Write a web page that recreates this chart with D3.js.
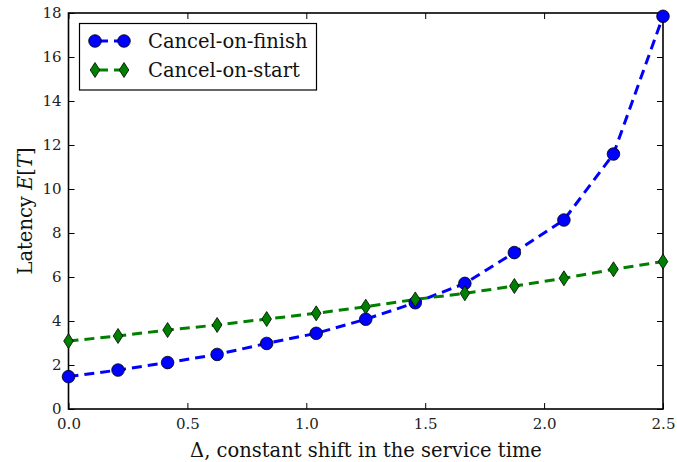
<!DOCTYPE html>
<html><head><meta charset="utf-8">
<script src="https://cdn.jsdelivr.net/npm/d3@7"></script>
<style>body{margin:0;background:#fff} text{font-family:"DejaVu Serif",serif}</style></head>
<body><svg id="c" width="677" height="462"></svg>
<script>
const deltas = [0, 0.2083, 0.4167, 0.625, 0.8333, 1.0417, 1.25, 1.4583, 1.6667, 1.875, 2.0833, 2.2917, 2.5];
const cancelOnFinish = [1.47, 1.77, 2.11, 2.48, 2.98, 3.44, 4.08, 4.83, 5.71, 7.11, 8.59, 11.59, 17.85];
const cancelOnStart = [3.09, 3.32, 3.59, 3.82, 4.09, 4.35, 4.65, 4.98, 5.26, 5.59, 5.94, 6.35, 6.70];
const xTicks = [0, 0.5, 1.0, 1.5, 2.0, 2.5];
const yTicks = [0, 2, 4, 6, 8, 10, 12, 14, 16, 18];
const seriesNames = ["Cancel-on-finish", "Cancel-on-start"];

const svg = d3.select("#c");
const L = 68.5, R = 663, T = 13, B = 409;
const x = d3.scaleLinear().domain([0, 2.5]).range([L, R]);
const y = d3.scaleLinear().domain([0, 18]).range([B, T]);
const font = "DejaVu Serif";

const gx = svg.append("g").attr("transform", `translate(0,${B})`)
  .call(d3.axisBottom(x).tickValues(xTicks).tickFormat(d3.format(".1f")).tickSizeInner(-6).tickSizeOuter(0).tickPadding(9));
const gxt = svg.append("g").attr("transform", `translate(0,${T})`)
  .call(d3.axisTop(x).tickValues(xTicks).tickFormat("").tickSizeInner(-6).tickSizeOuter(0));
const gy = svg.append("g").attr("transform", `translate(${L},0)`)
  .call(d3.axisLeft(y).tickValues(yTicks).tickFormat(d3.format("d")).tickSizeInner(-6).tickSizeOuter(0).tickPadding(7));
const gyr = svg.append("g").attr("transform", `translate(${R},0)`)
  .call(d3.axisRight(y).tickValues(yTicks).tickFormat("").tickSizeInner(-6).tickSizeOuter(0));
[gx, gxt, gy, gyr].forEach(g => {
  g.select(".domain").remove();
  g.selectAll(".tick line").attr("stroke", "#000").attr("stroke-width", 1);
  g.selectAll("text").attr("font-family", font).attr("font-size", 15).attr("fill", "#222");
});

svg.append("rect").attr("x", L).attr("y", T).attr("width", R - L).attr("height", B - T)
  .attr("fill", "none").attr("stroke", "#000").attr("stroke-width", 1.6);

const series = [
  {name: seriesNames[0], vals: cancelOnFinish, color: "#0000ff", marker: "circle"},
  {name: seriesNames[1], vals: cancelOnStart, color: "#008000", marker: "diamond"}
];
const line = d3.line().x(d => x(d[0])).y(d => y(d[1]));
const plot = svg.append("g");

function drawMarker(g, type, cx, cy, color) {
  if (type === "circle") {
    g.append("circle").attr("cx", cx).attr("cy", cy).attr("r", 6.3)
      .attr("fill", color).attr("stroke", "#000").attr("stroke-width", 0.8);
  } else {
    g.append("path").attr("d", `M${cx},${cy-7.5}L${cx+4.8},${cy}L${cx},${cy+7.5}L${cx-4.8},${cy}Z`)
      .attr("fill", color).attr("stroke", "#000").attr("stroke-width", 0.8);
  }
}

series.forEach(s => {
  const pts = deltas.map((d, i) => [d, s.vals[i]]);
  plot.append("path").attr("d", line(pts)).attr("fill", "none")
    .attr("stroke", s.color).attr("stroke-width", 3).attr("stroke-dasharray", "10,6");
});
series.forEach(s => {
  const mg = plot.append("g");
  deltas.forEach((d, i) => drawMarker(mg, s.marker, x(d), y(s.vals[i]), s.color));
});

// legend
const lg = svg.append("g");
lg.append("rect").attr("x", 79.5).attr("y", 23.5).attr("width", 237).attr("height", 66.5)
  .attr("fill", "#fff").attr("stroke", "#000").attr("stroke-width", 1.2);
series.forEach((s, i) => {
  const ly = 41 + i * 29;
  lg.append("line").attr("x1", 95).attr("x2", 124).attr("y1", ly).attr("y2", ly)
    .attr("stroke", s.color).attr("stroke-width", 3).attr("stroke-dasharray", "10,6").attr("stroke-dashoffset", -3);
  drawMarker(lg, s.marker, 95, ly, s.color);
  drawMarker(lg, s.marker, 124, ly, s.color);
  lg.append("text").attr("x", 148).attr("y", ly + 7).attr("font-family", font).attr("font-size", 19.5)
    .attr("fill", "#111").text(s.name);
});

// axis labels
svg.append("text").attr("x", 366).attr("y", 457).attr("text-anchor", "middle")
  .attr("font-family", font).attr("font-size", 19.5).attr("fill", "#111")
  .text("Δ, constant shift in the service time");
const yl = svg.append("text").attr("transform", `translate(32,${(T + B) / 2}) rotate(-90)`)
  .attr("text-anchor", "middle").attr("font-family", font).attr("font-size", 19.5).attr("fill", "#111");
yl.append("tspan").text("Latency ");
yl.append("tspan").attr("font-style", "italic").text("E");
yl.append("tspan").text("[");
yl.append("tspan").attr("font-style", "italic").text("T");
yl.append("tspan").text("]");
</script></body></html>
